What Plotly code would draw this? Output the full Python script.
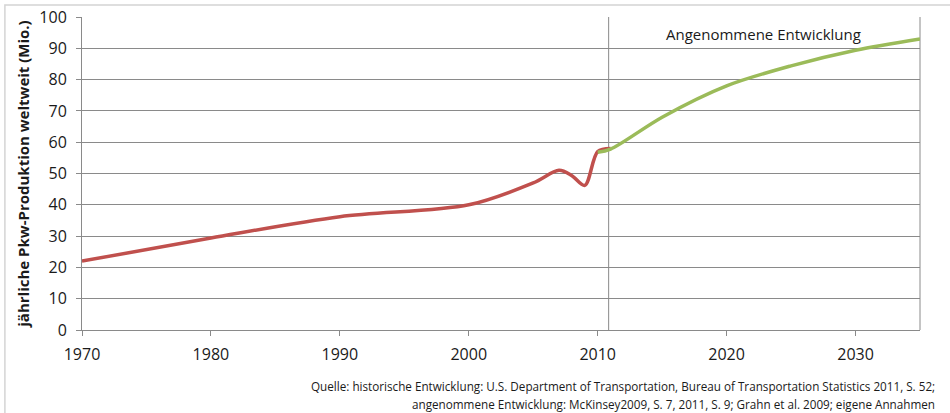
import plotly.graph_objects as go

# historische Entwicklung (Mio. Pkw pro Jahr)
hist_years = [1970, 1980, 1990, 2000, 2005, 2007, 2008, 2009, 2010, 2011]
hist_values = [22.0, 29.4, 36.2, 40.0, 47.0, 51.0, 49.3, 46.2, 57.0, 58.0]

# angenommene Entwicklung
proj_years = [2010, 2011, 2015, 2020, 2025, 2030, 2035]
proj_values = [56.8, 57.8, 68.0, 78.0, 84.4, 89.4, 93.0]

x_ticks = [1970, 1980, 1990, 2000, 2010, 2020, 2030]
y_ticks = [0, 10, 20, 30, 40, 50, 60, 70, 80, 90, 100]

split_year = 2010.85

source_lines = [
    "Quelle: historische Entwicklung: U.S. Department of Transportation, Bureau of Transportation Statistics 2011, S. 52;",
    "angenommene Entwicklung: McKinsey2009, S. 7, 2011, S. 9; Grahn et al. 2009; eigene Annahmen",
]

grid = "#8a8a8a"
font = "'Open Sans', Lato, sans-serif"

fig = go.Figure()
fig.add_trace(go.Scatter(x=hist_years, y=hist_values, mode="lines",
                         line=dict(color="#c0504d", width=3.5, shape="spline", smoothing=0.9),
                         showlegend=False, hoverinfo="x+y"))
fig.add_trace(go.Scatter(x=proj_years, y=proj_values, mode="lines",
                         line=dict(color="#9bbb59", width=3.5, shape="spline", smoothing=0.9),
                         showlegend=False, hoverinfo="x+y"))

# Trennlinie historisch / Prognose
fig.add_shape(type="line", xref="x", yref="y", x0=split_year, x1=split_year, y0=0, y1=100,
              line=dict(color=grid, width=1), layer="below")
# Rahmen rechts
fig.add_shape(type="line", xref="paper", yref="paper", x0=1, x1=1, y0=0, y1=1,
              line=dict(color=grid, width=1), layer="below")
# äußerer Rahmen
fig.add_shape(type="rect", xref="paper", yref="paper", x0=-0.092, x1=1.2, y0=-0.5, y1=1.038,
              line=dict(color="#d4d4d4", width=1.5), layer="below")

fig.add_annotation(x=2022.85, y=94.7, xref="x", yref="y", text="Angenommene Entwicklung",
                   showarrow=False, font=dict(size=15, color="#1a1a1a"))

for i, line in enumerate(source_lines):
    fig.add_annotation(x=1.0203, y=-0.179 - i * 0.0575, xref="paper", yref="paper",
                       xanchor="right", yanchor="middle", showarrow=False,
                       text=line, font=dict(size=11.7, color="#1a1a1a"))

fig.update_layout(
    width=950, height=413,
    margin=dict(l=82, r=30, t=17, b=83),
    paper_bgcolor="white", plot_bgcolor="white",
    font=dict(family=font, color="#1a1a1a"),
    showlegend=False,
)
fig.update_xaxes(range=[1970, 2035], tickvals=x_ticks, ticks="outside", ticklen=5,
                 tickcolor=grid, showline=True, linecolor=grid, linewidth=1,
                 showgrid=False, zeroline=False, tickfont=dict(size=16),
                 ticklabelstandoff=5, automargin=False)
fig.update_yaxes(range=[0, 100], tickvals=y_ticks, ticks="outside", ticklen=5,
                 tickcolor=grid, showline=True, linecolor=grid, linewidth=1,
                 showgrid=True, gridcolor=grid, gridwidth=1, zeroline=False,
                 tickfont=dict(size=16), automargin=False, ticklabelstandoff=6,
                 title=dict(text="<b>jährliche Pkw-Produktion weltweit (Mio.)</b>",
                            font=dict(size=15), standoff=6))

fig.write_html("out.html", config={"displayModeBar": False},
               post_script="document.body.style.margin='0px';")
